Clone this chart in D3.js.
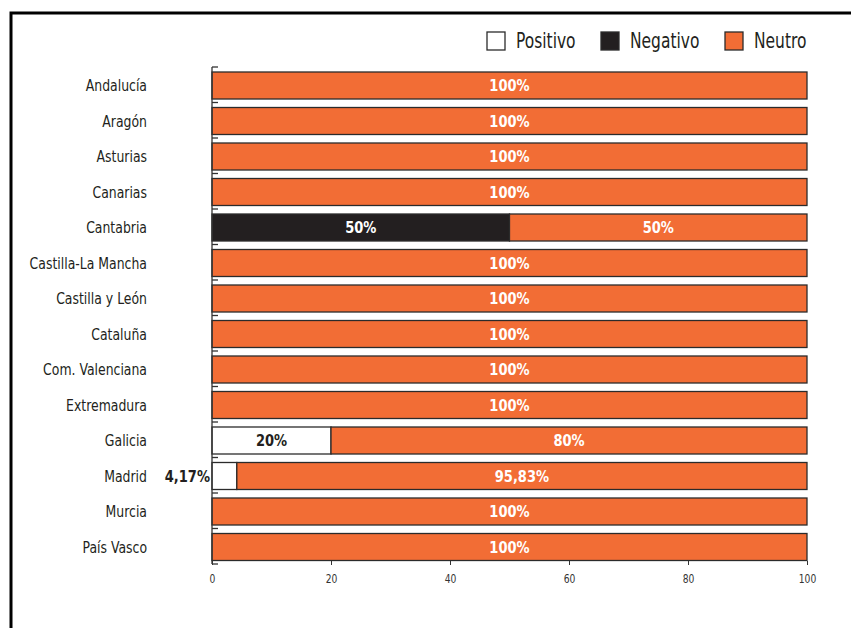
<!DOCTYPE html>
<html><head><meta charset="utf-8">
<script src="https://cdn.jsdelivr.net/npm/d3@7"></script>
<style>
body{margin:0;background:#fff;}
svg{display:block;}
text{font-family:"DejaVu Sans Condensed","DejaVu Sans",sans-serif;}
</style></head>
<body><svg id="chart" width="851" height="628"></svg>
<script>
const categories = ["Andalucía","Aragón","Asturias","Canarias","Cantabria","Castilla-La Mancha","Castilla y León","Cataluña","Com. Valenciana","Extremadura","Galicia","Madrid","Murcia","País Vasco"];
const positivo = [0,0,0,0,0,0,0,0,0,0,20,4.17,0,0];
const negativo = [0,0,0,0,50,0,0,0,0,0,0,0,0,0];
const neutro   = [100,100,100,100,50,100,100,100,100,100,80,95.83,100,100];
const seriesNames = ["Positivo","Negativo","Neutro"];
const xTicks = [0,20,40,60,80,100];

const colors = {Positivo:"#ffffff", Negativo:"#231f20", Neutro:"#f26d35"};
const svg = d3.select("#chart");

// helper: horizontally condensed text
function ctext(parent, px, py, str, opts){
  const sx = opts.sx || 0.86;
  return parent.append("text")
    .attr("transform",`translate(${px},${py}) scale(${sx},1)`)
    .attr("dy","0.36em")
    .attr("text-anchor",opts.anchor||"start")
    .attr("font-size",opts.size||16)
    .attr("font-weight",opts.weight||"normal")
    .attr("fill",opts.fill||"#231f20")
    .text(str);
}

// frame
svg.append("rect").attr("x",11).attr("y",13).attr("width",900).attr("height",700)
  .attr("fill","none").attr("stroke","#000").attr("stroke-width",3);

const x = d3.scaleLinear().domain([0,100]).range([212,807]);
const y = d3.scaleBand().domain(categories).range([67,564]).paddingInner(0).paddingOuter(0);
const barOff = 5, barH = 27;

const rows = categories.map((c,i)=>({cat:c, Positivo:positivo[i], Negativo:negativo[i], Neutro:neutro[i]}));
const stack = d3.stack().keys(seriesNames)(rows);

const fmt = v => (Number.isInteger(v) ? v : v.toFixed(2).replace(".",",")) + "%";

stack.forEach(layer=>{
  const g = svg.append("g");
  layer.forEach(d=>{
    const v = d[1]-d[0];
    if (v<=0) return;
    const cat = d.data.cat;
    g.append("rect").attr("x",x(d[0])).attr("y",y(cat)+barOff)
      .attr("width",x(d[1])-x(d[0])).attr("height",barH)
      .attr("fill",colors[layer.key]).attr("stroke","#2b2b2b").attr("stroke-width",1.3);
  });
});
stack.forEach(layer=>{
  layer.forEach(d=>{
    const v = d[1]-d[0];
    if (v<=0) return;
    const cat = d.data.cat;
    const small = (x(d[1])-x(d[0])) < 40;
    const cy = y(cat)+barOff+barH/2;
    const fill = layer.key==="Positivo" ? "#231f20" : "#ffffff";
    if (small) ctext(svg, x(d[0])-2, cy, fmt(v), {anchor:"end", weight:"bold", size:16.5, sx:0.88, fill});
    else ctext(svg, (x(d[0])+x(d[1]))/2, cy, fmt(v), {anchor:"middle", weight:"bold", size:16.5, sx:0.88, fill});
  });
});

// y axis
const yAxis = svg.append("g");
yAxis.append("line").attr("x1",212).attr("x2",212).attr("y1",67).attr("y2",564)
  .attr("stroke","#333").attr("stroke-width",1.3);
categories.concat(["_end"]).forEach((c,i)=>{
  const yy = i<categories.length ? y(c) : 564;
  yAxis.append("line").attr("x1",212).attr("x2",218).attr("y1",yy).attr("y2",yy)
    .attr("stroke","#333").attr("stroke-width",1.3);
});
categories.forEach(c=>{
  ctext(svg, 147, y(c)+barOff+barH/2, c, {anchor:"end", size:16.5, sx:0.84});
});

// x axis
const xAxis = d3.axisBottom(x).tickValues(xTicks).tickSize(4).tickPadding(9).tickFormat(d3.format("d"));
const gx = svg.append("g").attr("transform","translate(0,561)").call(xAxis);
gx.select(".domain").remove();
gx.selectAll(".tick line").attr("stroke","#333");
gx.selectAll(".tick text").attr("font-size",12).attr("fill","#333")
  .style("font-family",'"DejaVu Sans Condensed",sans-serif')
  .attr("transform","scale(0.85,1)");

// legend
const legX = [487,601,725];
seriesNames.forEach((s,i)=>{
  svg.append("rect").attr("x",legX[i]).attr("y",32).attr("width",18).attr("height",18)
    .attr("fill",colors[s]).attr("stroke","#2b2b2b").attr("stroke-width",1.3);
  ctext(svg, legX[i]+29, 41, s, {size:20.5, sx:0.84});
});
</script></body></html>
